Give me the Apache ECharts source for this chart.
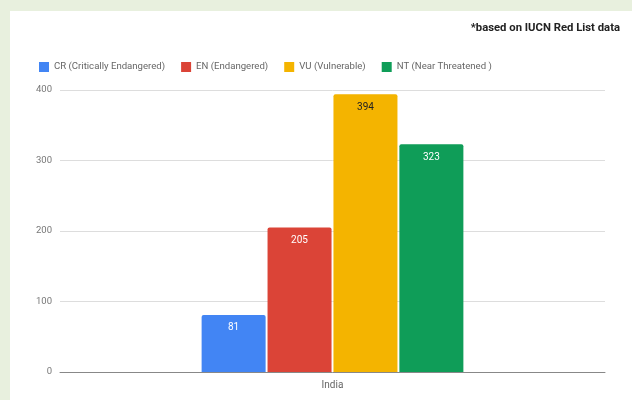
<!DOCTYPE html>
<html>
<head>
<meta charset="utf-8">
<script src="https://cdn.jsdelivr.net/npm/echarts@6/dist/echarts.min.js"></script>
<style>
  html, body { margin: 0; padding: 0; background: #e8f0de; }
  #wrap { position: absolute; left: 10px; top: 11px; right: 0; bottom: 0; background: #fff; }
  #chart { position: absolute; left: 0; top: 0; width: 632px; height: 400px; }
</style>
</head>
<body>
<div id="wrap"></div>
<div id="chart"></div>
<script>
// Threatened species counts for India by IUCN Red List category
const categories = ['India'];
const seriesNames = ['CR (Critically Endangered)', 'EN (Endangered)', 'VU (Vulnerable)', 'NT (Near Threatened )'];
const crValues = [81];
const enValues = [205];
const vuValues = [394];
const ntValues = [323];
const yTicks = [0, 100, 200, 300, 400];

const colors = ['#4285f4', '#db4437', '#f4b400', '#0f9d58'];
const labelColors = ['#ffffff', '#ffffff', '#222222', '#ffffff'];
const valueSets = [crValues, enValues, vuValues, ntValues];

const chart = echarts.init(document.getElementById('chart'), null, { renderer: 'canvas' });

const series = seriesNames.map((name, i) => ({
  name: name,
  type: 'bar',
  data: valueSets[i],
  barWidth: 64,
  barGap: '3%',
  itemStyle: { color: colors[i], borderRadius: [2, 2, 0, 0] },
  label: {
    show: true,
    position: 'insideTop',
    distance: 8,
    color: labelColors[i],
    fontSize: 10,
    fontFamily: 'Roboto'
  }
}));

chart.setOption({
  backgroundColor: 'transparent',
  animation: false,
  textStyle: { fontFamily: 'Roboto' },
  title: {
    text: '*based on IUCN Red List data',
    right: 7,
    top: 18,
    textStyle: { fontSize: 11.3, fontWeight: 'bold', color: '#222', fontFamily: 'Roboto' }
  },
  legend: {
    data: seriesNames,
    left: 34,
    top: 57,
    itemWidth: 10,
    itemHeight: 10,
    itemGap: 16,
    icon: 'rect',
    textStyle: { fontSize: 9.6, color: '#666', fontFamily: 'Roboto' }
  },
  grid: { left: 60, right: 27, top: 90, bottom: 28, containLabel: false },
  xAxis: {
    type: 'category',
    data: categories,
    axisLine: { show: true, lineStyle: { color: '#888', width: 1 } },
    axisTick: { show: false },
    axisLabel: { color: '#666', fontSize: 10, margin: 8 }
  },
  yAxis: {
    type: 'value',
    min: yTicks[0],
    max: yTicks[yTicks.length - 1],
    interval: yTicks[1] - yTicks[0],
    axisLine: { show: false },
    axisTick: { show: false },
    axisLabel: { color: '#777', fontSize: 9.5, margin: 8 },
    splitLine: { lineStyle: { color: '#dddddd', width: 1 } }
  },
  series: series
});
</script>
</body>
</html>
